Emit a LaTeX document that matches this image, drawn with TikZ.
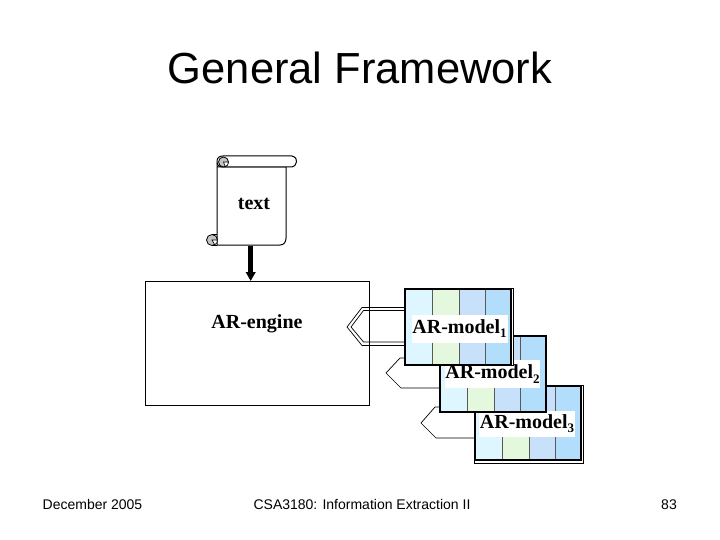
\documentclass[tikz,border=0pt]{standalone}
\usepackage{fontspec}
\setmainfont{Liberation Serif}
\newfontfamily\arialfont{Liberation Sans}
\usetikzlibrary{arrows.meta,calc}
\definecolor{cola}{HTML}{DDF6FF}
\definecolor{colb}{HTML}{E4F8DE}
\definecolor{colc}{HTML}{C8E1FA}
\definecolor{cold}{HTML}{B2DDFB}
\definecolor{rollgray}{HTML}{C4C4C4}
\newcommand{\modelcols}[2]{%
  \fill[cola] (#1,#2) rectangle ++(27,77);
  \fill[colb] (#1+27,#2) rectangle ++(27,77);
  \fill[colc] (#1+54,#2) rectangle ++(26,77);
  \fill[cold] (#1+80,#2) rectangle ++(26,77);
  \draw[line width=0.7pt,black!65] (#1+27,#2) -- ++(0,77) (#1+54,#2) -- ++(0,77) (#1+80,#2) -- ++(0,77);
}
\newcommand{\msub}[1]{\raisebox{-4.5pt}{\fontsize{13}{14}\selectfont #1}}
\tikzset{
  titletext/.style={anchor=base,inner sep=0pt,font=\arialfont\fontsize{43.5}{48}\selectfont},
  foot/.style={anchor=base,inner sep=0pt,font=\arialfont\fontsize{14}{16}\selectfont},
  serifbold/.style={anchor=base,inner sep=0pt,font=\bfseries\fontsize{20}{22}\selectfont},
  modelbox/.style={draw=black,line width=2pt,minimum width=106pt,minimum height=76pt,inner sep=0pt,outer sep=0pt,anchor=north west},
  modelrim/.style={draw=black,line width=0.7pt,fill=white},
  modellabel/.style={fill=white,inner sep=0pt,outer sep=0pt,font=\bfseries\fontsize{20}{22}\selectfont,anchor=center,minimum height=26pt},
  link/.style={draw=black,line width=0.7pt},
  enginebox/.style={draw=black,line width=0.8pt,inner sep=0pt,outer sep=0pt,minimum width=224pt,minimum height=124pt,anchor=north west},
  scrollline/.style={draw=black,line width=1pt,line join=round},
  curl/.style={draw=black,line width=0.8pt,fill=rollgray},
}
\begin{document}
\begin{tikzpicture}[x=1pt,y=-1pt]
\useasboundingbox[fill=white] (0,0) rectangle (720,540);
\node[titletext] (title) at (360,84) {General Framework};

% scroll
\path[scrollline,fill=white] (217,163) -- (217,245) -- (280,245)
  .. controls (284,245) and (286,242) .. (286,238) -- (286,167) -- (217,167) -- cycle;
\path[scrollline,fill=white] (223,156) -- (292,156) .. controls (296,157) and (297,160) .. (296.5,162)
  .. controls (296,165) and (294,167) .. (292,167) -- (223,167)
  .. controls (219,167) and (217,165) .. (217,161.5) .. controls (217,158) and (219,156) .. (223,156) -- cycle;
\path[curl] (223.5,162) circle[radius=5];
\path[draw=black,line width=0.6pt,fill=white] (223.5,162) -- (228.5,162) arc[start angle=0,end angle=70,radius=5] -- cycle;
\path[curl] (212,240) circle[radius=5.5];
\path[draw=black,line width=0.6pt,fill=white] (212,240) -- (217.5,240) arc[start angle=0,end angle=60,radius=5.5] -- cycle;
\draw[scrollline] (212,234.5) -- (217,234.5) (212,245.2) -- (217,245.2);
\coordinate (scrollfoot) at (250.7,245.5);
\node[serifbold] (textlabel) at (254,210) {text};

% engine
\node[enginebox] (engine) at (145,281) {};
\node[serifbold] (enginelabel) at (257,328) {AR-engine};
\draw[line width=4.6pt,-{Triangle[length=9pt,width=9.5pt]}] (scrollfoot) -- (scrollfoot |- engine.north);

% model 3
\draw[link] (474,407) -- (435,407) -- (421,423) -- (436,438) -- (474,438);
\draw[modelrim] (474,385) rectangle (583,463);
\modelcols{475}{385}
\fill[white] (474.5,460.5) rectangle (582.6,462.6);
\node[modelbox,minimum height=74pt] (m3) at (475,386) {};
\node[modellabel,minimum width=96pt] (l3) at (527,423.5) {AR-model\msub{3}};

% model 2
\draw[link] (404,358) -- (400,358) -- (386,373) -- (401,388) -- (439,388);
\modelcols{440}{335}
\node[modelbox] (m2) at (440,336) {};
\node[modellabel,minimum width=95pt,minimum height=28pt] (l2) at (492.5,374) {AR-model\msub{2}};

% model 1
\draw[link] (404,307.5) -- (362,307.5) -- (347,327) -- (362,345.5) -- (404,345.5);
\draw[link] (404,310.5) -- (363.5,310.5) -- (351,327) -- (363.5,342) -- (404,342);
\draw[modelrim] (404,288) rectangle (513,365);
\modelcols{405}{288}
\node[modelbox] (m1) at (405,289) {};
\node[modellabel,minimum width=96pt,minimum height=28pt] (l1) at (459.5,328.5) {AR-model\msub{1}};

% footer
\node[foot] (date) at (92.5,509) {December 2005};
\node[foot] (course) at (362,509) {CSA3180: Information Extraction II};
\node[foot] (page) at (669,509) {83};
\end{tikzpicture}
\end{document}
